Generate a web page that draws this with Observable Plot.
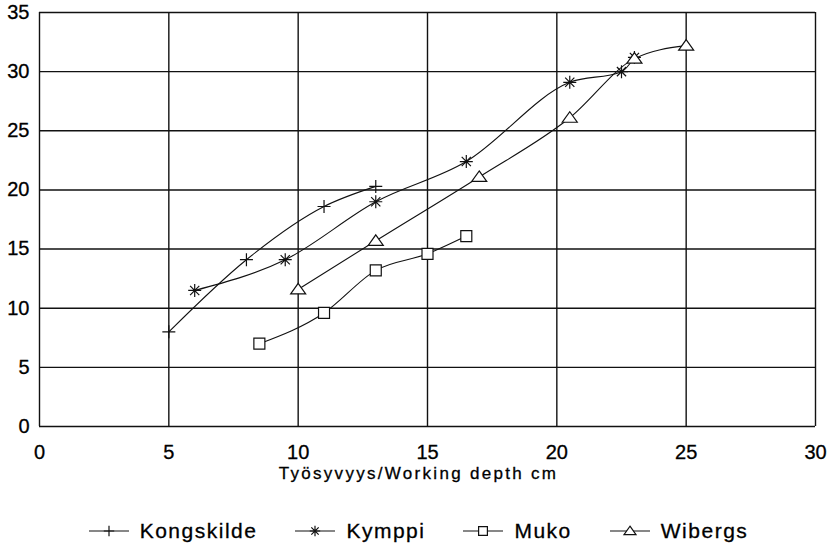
<!DOCTYPE html>
<html><head><meta charset="utf-8">
<script src="https://cdn.jsdelivr.net/npm/d3@7"></script>
<script src="https://cdn.jsdelivr.net/npm/@observablehq/plot@0.6"></script>
<style>
body{margin:0;background:#fff;font-family:"Liberation Sans",Arial,sans-serif;color:#000;}
#wrap{position:relative;width:837px;height:546px;overflow:hidden;}
#title{position:absolute;left:0;width:837px;top:464.5px;text-align:center;font-size:17px;letter-spacing:2.3px;line-height:18px;-webkit-text-stroke:0.3px #000;}
#legend{position:absolute;top:518px;left:0;width:837px;display:flex;justify-content:center;gap:38px;font-size:21px;letter-spacing:1.5px;line-height:26px;-webkit-text-stroke:0.3px #000;}
.item{display:flex;align-items:center;}
.item svg{margin-right:11px;}
svg text{stroke:#000;stroke-width:0.3px;}
</style>
</head><body>
<div id="wrap"><div id="chart"></div><div id="title"></div><div id="legend"></div></div>
<script>
// ---- data ----
const seriesNames = ["Kongskilde", "Kymppi", "Muko", "Wibergs"];
const kongskildeX = [5, 8, 11, 13];
const kongskildeY = [8.0, 14.1, 18.6, 20.3];
const kymppiX = [6, 9.5, 13, 16.5, 20.5, 22.5, 23];
const kymppiY = [11.5, 14.1, 19.0, 22.4, 29.1, 30.0, 31.2];
const mukoX = [8.5, 11, 13, 15, 16.5];
const mukoY = [7.0, 9.6, 13.2, 14.6, 16.1];
const wibergsX = [10, 13, 17, 20.5, 23, 25];
const wibergsY = [11.6, 15.7, 21.1, 26.1, 31.1, 32.2];
const xTicks = [0, 5, 10, 15, 20, 25, 30];
const yTicks = [0, 5, 10, 15, 20, 25, 30, 35];
const xLabel = "Työsyvyys/Working depth cm";

// ---- custom symbols ----
const rOf = s => Math.sqrt(s / Math.PI);
const symPlus = {draw(c, s){const r = rOf(s); c.moveTo(-r,0); c.lineTo(r,0); c.moveTo(0,-r); c.lineTo(0,r);}};
const symStar = {draw(c, s){const r = rOf(s); for (let k = 0; k < 4; k++){const a = k*Math.PI/4; c.moveTo(-r*Math.cos(a), -r*Math.sin(a)); c.lineTo(r*Math.cos(a), r*Math.sin(a));}}};
const symSquare = {draw(c, s){const r = rOf(s); c.moveTo(-r,-r); c.lineTo(r,-r); c.lineTo(r,r); c.lineTo(-r,r); c.closePath();}};
const symTri = {draw(c, s){const r = rOf(s); c.moveTo(0,-r*0.8); c.lineTo(r,r*0.6); c.lineTo(-r,r*0.6); c.closePath();}};
const symbols = [symPlus, symStar, symSquare, symTri];
const symR = [6.5, 6.5, 5.5, 7.5];
const symFill = ["none", "none", "white", "white"];

const xs = [kongskildeX, kymppiX, mukoX, wibergsX];
const ys = [kongskildeY, kymppiY, mukoY, wibergsY];
const tables = seriesNames.map((name, i) => xs[i].map((x, j) => ({series: name, x, y: ys[i][j]})));
const all = tables.flat();

const chart = Plot.plot({
  width: 837,
  height: 464,
  marginLeft: 39,
  marginRight: 22,
  marginTop: 12,
  marginBottom: 38,
  style: {fontFamily: "'Liberation Sans', Arial, sans-serif", fontSize: "20px", background: "white", color: "black", overflow: "visible"},
  x: {domain: [0, 30], ticks: xTicks, tickSize: 0, tickPadding: 18, label: null},
  y: {domain: [0, 35], ticks: yTicks, tickSize: 0, tickPadding: 10, label: null},
  marks: [
    Plot.ruleX(xTicks, {stroke: "#111", strokeWidth: 1.4}),
    Plot.ruleY(yTicks, {stroke: "#111", strokeWidth: 1.4}),
    Plot.line(all, {x: "x", y: "y", z: "series", curve: "monotone-x", stroke: "#111", strokeWidth: 1.1}),
    ...tables.map((t, i) => Plot.dot(t, {x: "x", y: "y", symbol: symbols[i], r: symR[i], fill: symFill[i], stroke: "#111", strokeWidth: 1.2}))
  ]
});
document.getElementById("chart").appendChild(chart);
document.getElementById("title").textContent = xLabel;

// ---- legend ----
const legend = document.getElementById("legend");
seriesNames.forEach((name, i) => {
  const item = document.createElement("div");
  item.className = "item";
  const p = d3.path();
  symbols[i].draw(p, Math.PI * (symR[i] * 0.8) ** 2);
  item.innerHTML = `<svg width="40" height="20" viewBox="-20 -10 40 20"><line x1="-20" x2="20" y1="0" y2="0" stroke="#111" stroke-width="1.2"/><path d="${p}" fill="${symFill[i]}" stroke="#111" stroke-width="1.2"/></svg><span>${name}</span>`;
  legend.appendChild(item);
});
</script>
</body></html>
